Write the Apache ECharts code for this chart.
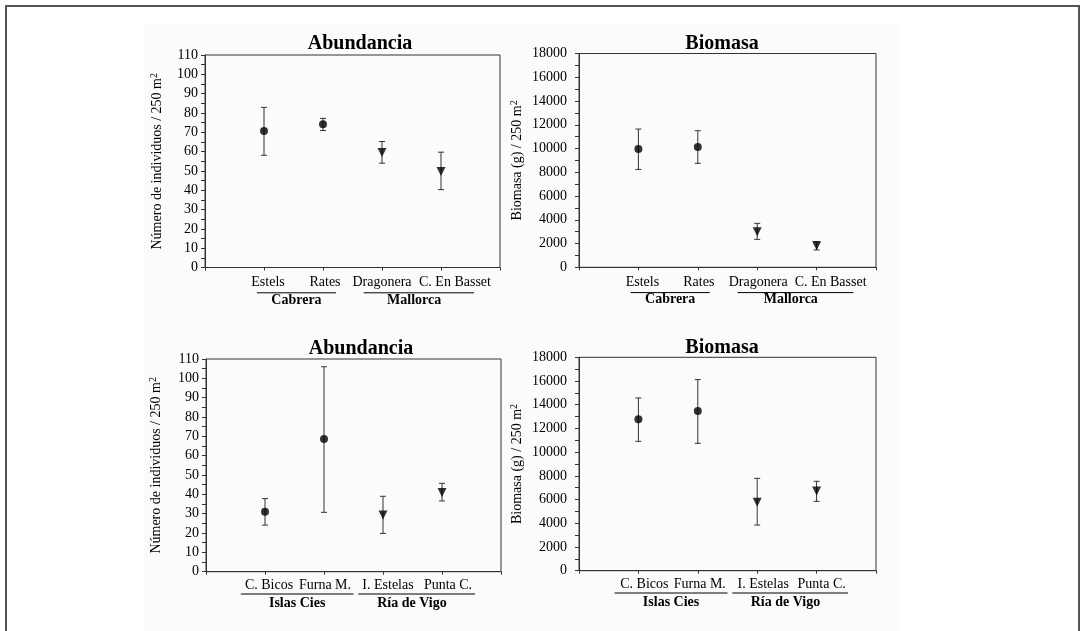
<!DOCTYPE html>
<html>
<head>
<meta charset="utf-8">
<script src="https://cdn.jsdelivr.net/npm/echarts@6/dist/echarts.min.js"></script>
<style>html,body{margin:0;padding:0;background:#fff;}#c{width:1083px;height:631px;}</style>
</head>
<body>
<div id="c"></div>
<script>
// ---- data ----
const topCats = ['Estels', 'Rates', 'Dragonera', 'C. En Basset'];
const topGroups = ['Cabrera', 'Mallorca'];
const botCats = ['C. Bicos', 'Furna M.', 'I. Estelas', 'Punta C.'];
const botGroups = ['Islas Cies', 'Ría de Vigo'];
const titles = ['Abundancia', 'Biomasa', 'Abundancia', 'Biomasa'];
const abundName = 'Número de individuos / 250 m';
const bioName = 'Biomasa (g) / 250 m';
const abundTicks = { min: 0, max: 110, interval: 10 };
const bioTicks = { min: 0, max: 18000, interval: 2000 };

const abundTopMean = [70.7, 74.1, 59.5, 49.7];
const abundTopLow  = [58.1, 70.9, 54.0, 40.3];
const abundTopHigh = [82.9, 77.2, 65.2, 59.7];

const bioTopMean = [9950, 10120, 3000, 1820];
const bioTopLow  = [8240, 8750, 2350, 1460];
const bioTopHigh = [11640, 11500, 3700, 2160];

const abundBotMean = [31.0, 68.6, 29.3, 40.9];
const abundBotLow  = [24.1, 30.7, 19.8, 36.6];
const abundBotHigh = [37.8, 106.0, 39.0, 45.7];

const bioBotMean = [12770, 13470, 5770, 6720];
const bioBotLow  = [10910, 10740, 3850, 5850];
const bioBotHigh = [14570, 16120, 7790, 7540];

// marker type per site: circle for first pair, inverted triangle for second
const markerKind = ['circle', 'circle', 'triangle', 'triangle'];

// ---- layout ----
const FONT = "'Liberation Serif', 'Times New Roman', serif";
const panels = [
  { cats: topCats, groups: topGroups, mean: abundTopMean, low: abundTopLow, high: abundTopHigh, ticks: abundTicks, name: abundName,
    grid: { left: 205, top: 55, width: 295, height: 212.5 }, title: [355, 29], nameGap: 40, yMargin: 7,
    shift: [4, 2, 0, 14], spans: [[0.88, 2.22], [2.69, 4.56]], lblMargin: 8, uy: 25.3, gy: 32.5 },
  { cats: topCats, groups: topGroups, mean: bioTopMean, low: bioTopLow, high: bioTopHigh, ticks: bioTicks, name: bioName,
    grid: { left: 579, top: 53.5, width: 297, height: 213.8 }, title: [717, 29], nameGap: 54, yMargin: 12,
    shift: [4, 1, 1, 14], spans: [[0.87, 2.2], [2.67, 4.62]], lblMargin: 8, uy: 25.3, gy: 32.5 },
  { cats: botCats, groups: botGroups, mean: abundBotMean, low: abundBotLow, high: abundBotHigh, ticks: abundTicks, name: abundName,
    grid: { left: 206, top: 359, width: 295, height: 212.7 }, title: [356, 334], nameGap: 42, yMargin: 7,
    shift: [4, 1, 5, 6], spans: [[0.59, 2.5], [2.58, 4.56]], lblMargin: 7, uy: 22.3, gy: 31.3 },
  { cats: botCats, groups: botGroups, mean: bioBotMean, low: bioBotLow, high: bioBotHigh, ticks: bioTicks, name: bioName,
    grid: { left: 579, top: 357.3, width: 297, height: 213.4 }, title: [717, 333], nameGap: 54, yMargin: 12,
    shift: [6, 2, 6, 5], spans: [[0.6, 2.5], [2.58, 4.53]], lblMargin: 7, uy: 22.3, gy: 31.3 }
];

const AX = '#333';
function labelRich(p) {
  const r = {};
  p.shift.forEach((s, k) => {
    r['p' + (k + 1)] = { fontFamily: FONT, fontSize: 14, color: '#000', padding: [0, 0, 0, 2 * s] };
  });
  return r;
}
const option = {
  animation: false,
  backgroundColor: '#fff',
  title: panels.map((p, i) => ({
    text: titles[i], left: p.title[0], top: p.title[1], textAlign: 'center',
    textStyle: { fontFamily: FONT, fontWeight: 'bold', fontSize: 20, color: '#000' }
  })),
  grid: panels.map(p => Object.assign({ show: true, borderColor: AX, borderWidth: 1, backgroundColor: 'transparent' }, p.grid)),
  xAxis: panels.map((p, i) => ({
    type: 'category', gridIndex: i, boundaryGap: false,
    data: [''].concat(p.cats, ['']),
    axisLine: { lineStyle: { color: AX, width: 1 } },
    axisTick: { show: true, inside: false, length: 3, lineStyle: { color: AX } },
    axisLabel: {
      fontFamily: FONT, fontSize: 14, color: '#000', margin: p.lblMargin, interval: 0,
      formatter: (v, idx) => v ? '{p' + idx + '|' + v + '}' : '',
      rich: labelRich(p)
    },
    splitLine: { show: false }
  })),
  yAxis: panels.map((p, i) => ({
    type: 'value', gridIndex: i, min: p.ticks.min, max: p.ticks.max, interval: p.ticks.interval,
    name: p.name + '{s|2}', nameLocation: 'middle', nameGap: p.nameGap, nameRotate: 90,
    nameTextStyle: { fontFamily: FONT, fontSize: 14, color: '#000',
      rich: { s: { fontFamily: FONT, fontSize: 10, color: '#000', verticalAlign: 'top', lineHeight: 16 } } },
    axisLine: { show: true, lineStyle: { color: AX, width: 1 } },
    axisTick: { show: true, inside: false, length: 4, lineStyle: { color: AX } },
    minorTick: { show: true, splitNumber: 2, length: 4, lineStyle: { color: AX } },
    axisLabel: { fontFamily: FONT, fontSize: 14, color: '#000', margin: p.yMargin, formatter: v => String(v) },
    splitLine: { show: false }
  })),
  series: []
};

panels.forEach((p, i) => {
  option.series.push({
    type: 'custom', xAxisIndex: i, yAxisIndex: i, z: 2,
    data: p.cats.map((c, k) => [k + 1, p.low[k], p.high[k]]),
    encode: { x: 0, y: [1, 2] },
    renderItem: function (params, api) {
      const lo = api.coord([api.value(0), api.value(1)]);
      const hi = api.coord([api.value(0), api.value(2)]);
      const w = 3;
      const st = { stroke: '#333', lineWidth: 1 };
      return {
        type: 'group', children: [
          { type: 'line', shape: { x1: lo[0], y1: lo[1], x2: hi[0], y2: hi[1] }, style: st },
          { type: 'line', shape: { x1: hi[0] - w, y1: hi[1], x2: hi[0] + w, y2: hi[1] }, style: st },
          { type: 'line', shape: { x1: lo[0] - w, y1: lo[1], x2: lo[0] + w, y2: lo[1] }, style: st }
        ]
      };
    }
  });
  option.series.push({
    type: 'scatter', xAxisIndex: i, yAxisIndex: i, z: 3,
    data: p.cats.map((c, k) => ({
      value: [k + 1, p.mean[k]],
      symbol: markerKind[k],
      symbolSize: markerKind[k] === 'circle' ? 8 : 9,
      symbolRotate: markerKind[k] === 'circle' ? 0 : 180
    })),
    itemStyle: { color: '#000' }
  });
});

const chart = echarts.init(document.getElementById('c'), null, { renderer: 'canvas' });
chart.setOption(option);

// group labels and underlines, placed through the axes' own scales
const g = [
  { type: 'rect', z: -10, shape: { x: 143, y: 25, width: 758, height: 620 }, style: { fill: '#fbfbfb' }, silent: true },
  { type: 'rect', z: 100, shape: { x: 6, y: 6, width: 1073, height: 640 }, style: { fill: 'none', stroke: '#555', lineWidth: 2 }, silent: true }
];
panels.forEach((p, i) => {
  const q0 = chart.convertToPixel({ gridIndex: i }, [0, 0]);
  const q1 = chart.convertToPixel({ gridIndex: i }, [1, 0]);
  const step = q1[0] - q0[0];
  const y0 = q0[1];
  const px = v => q0[0] + v * step;
  p.groups.forEach((name, j) => {
    g.push({ type: 'line', shape: { x1: px(p.spans[j][0]), y1: y0 + p.uy, x2: px(p.spans[j][1]), y2: y0 + p.uy },
      style: { stroke: '#000', lineWidth: 1 } });
    g.push({ type: 'text', x: px((p.spans[j][0] + p.spans[j][1]) / 2 - (j === 1 ? 0.08 : 0)), y: y0 + p.gy,
      style: { text: name, align: 'center', verticalAlign: 'middle', fontFamily: FONT, fontSize: 14, fontWeight: 'bold', fill: '#000' } });
  });
});
chart.setOption({ graphic: { elements: g } });
</script>
</body>
</html>
